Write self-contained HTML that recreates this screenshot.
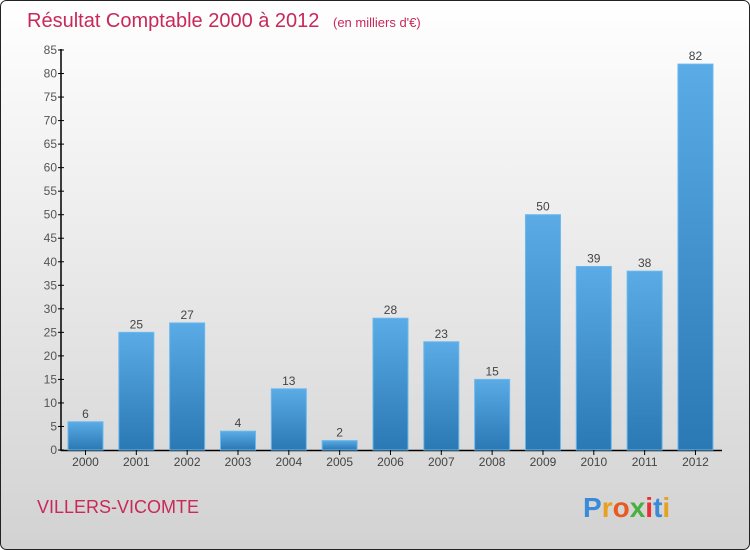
<!DOCTYPE html>
<html><head><meta charset="utf-8"><style>
html,body{margin:0;padding:0;width:750px;height:550px;overflow:hidden}
svg{display:block;font-family:"Liberation Sans",sans-serif}
</style></head><body>
<svg id="c" width="750" height="550">
<defs>
<linearGradient id="bg" x1="0" y1="0" x2="0" y2="1"><stop offset="0" stop-color="#ffffff"/><stop offset="1" stop-color="#d2d2d2"/></linearGradient>
<linearGradient id="bar" x1="0" y1="0" x2="0" y2="1"><stop offset="0" stop-color="#5aabe6"/><stop offset="1" stop-color="#2a78b4"/></linearGradient>
</defs>
<rect x="0.5" y="0.5" width="749" height="549" rx="6" fill="url(#bg)" stroke="#222"/>
<text x="27" y="27" font-size="20" fill="#c8285a">Résultat Comptable 2000 à 2012 <tspan font-size="13" dx="8">(en milliers d'€)</tspan></text>
<text x="37" y="513" font-size="18" fill="#c8285a">VILLERS-VICOMTE</text>
<text x="583" y="517" font-size="28" font-weight="bold"><tspan fill="#3a8ad8">P</tspan><tspan fill="#e8a020">r</tspan><tspan fill="#e85a20">o</tspan><tspan fill="#48b040">x</tspan><tspan fill="#e83030">i</tspan><tspan fill="#3a8ad8">t</tspan><tspan fill="#e8a020">i</tspan></text>
<g id="plot"></g>
</svg>
<script>
const years=["2000","2001","2002","2003","2004","2005","2006","2007","2008","2009","2010","2011","2012"];
const values=[6,25,27,4,13,2,28,23,15,50,39,38,82];
const yTicks=[0,5,10,15,20,25,30,35,40,45,50,55,60,65,70,75,80,85];
const ns="http://www.w3.org/2000/svg",g=document.getElementById('plot');
const y=v=>450-v*400/85, x=i=>68+i*50.83;
function mk(t,a,txt){const e=document.createElementNS(ns,t);for(const k in a)e.setAttribute(k,a[k]);if(txt!==undefined)e.textContent=txt;g.appendChild(e);return e;}
let ax=mk('line',{x1:61,y1:49,x2:61,y2:451,stroke:'#000','stroke-width':1.5});


let bx=mk('line',{x1:61,y1:450.5,x2:722,y2:450.5,stroke:'#000','stroke-width':1.5});


yTicks.forEach(v=>{
 const tk=mk('line',{x1:58,y1:y(v),x2:64,y2:y(v),stroke:'#000'});
 
 
 const l=mk('text',{x:57,y:y(v)+4,'font-size':12,fill:'#555','text-anchor':'end'},v);
 
 
});
years.forEach((yr,i)=>{
 const v=values[i];
 const r=mk('rect',{x:x(i),y:y(v),width:35,height:450-y(v),fill:'url(#bar)',stroke:'#6ab8ee','stroke-width':1});
 
 
 const t=mk('text',{x:x(i)+17.5,y:y(v)-4,'font-size':12,fill:'#444','text-anchor':'middle'},v);
 
 
 const tk=mk('line',{x1:x(i)+17.5,y1:450,x2:x(i)+17.5,y2:455,stroke:'#000'});
 
 
 const xl=mk('text',{x:x(i)+17.5,y:466,'font-size':12,fill:'#444','text-anchor':'middle'},yr);
 
 
});
</script>
</body></html>
